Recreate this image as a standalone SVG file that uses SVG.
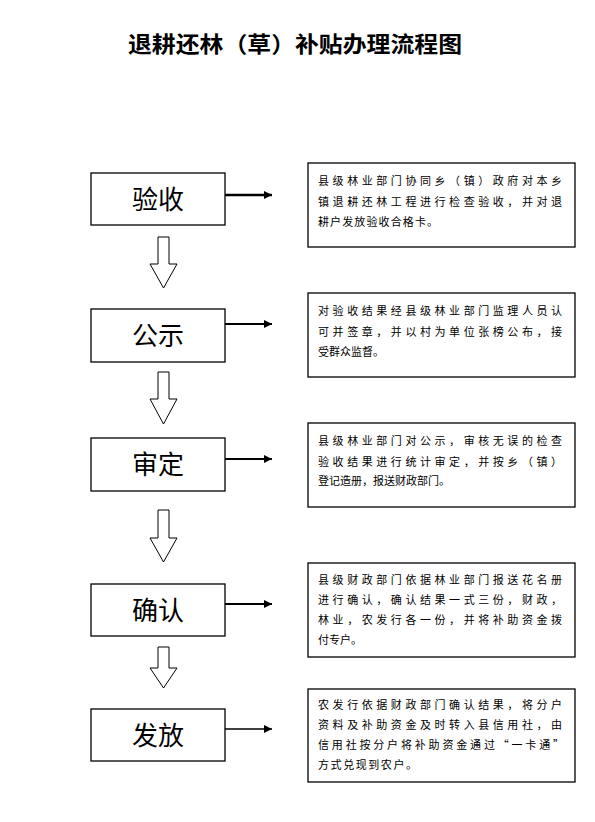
<svg xmlns="http://www.w3.org/2000/svg" width="595" height="822" viewBox="0 0 595 822">
<style>
.bg{fill:#ffffff}
.box{fill:#ffffff;stroke:#000000;stroke-width:1.3}
.lbl{font-family:"Noto Sans CJK SC","Liberation Sans",sans-serif;font-size:26px;fill:#000;text-anchor:middle}
.desc{font-family:"Noto Sans CJK SC","Liberation Sans",sans-serif;font-size:11px;fill:#000}
.title{font-family:"Noto Sans CJK SC","Liberation Sans",sans-serif;font-size:22px;font-weight:bold;fill:#000}
.down{fill:#ffffff;stroke:#000000;stroke-width:1}
.rline{stroke:#000;fill:none}
</style>
<defs>
<marker id="ah" viewBox="0 0 10 10" refX="10" refY="5" markerWidth="10" markerHeight="8" markerUnits="userSpaceOnUse" orient="auto">
<path d="M0,0 L10,5 L0,10 Z" fill="#000"/>
</marker>
</defs>
<rect class="bg" x="0" y="0" width="595" height="822"/>
<text class="title" x="128" y="52" textLength="334" lengthAdjust="spacingAndGlyphs">退耕还林（草）补贴办理流程图</text>

<g id="connectors">
<line class="rline" x1="225" y1="195" x2="272" y2="195" stroke-width="2.5" marker-end="url(#ah)"/>
<line class="rline" x1="225" y1="324" x2="272" y2="324" stroke-width="2" marker-end="url(#ah)"/>
<line class="rline" x1="225" y1="459" x2="272" y2="459" stroke-width="2" marker-end="url(#ah)"/>
<line class="rline" x1="225" y1="604" x2="272" y2="604" stroke-width="2" marker-end="url(#ah)"/>
<line class="rline" x1="225" y1="729" x2="272" y2="729" stroke-width="1.5" marker-end="url(#ah)"/>
<path class="down" d="M158,237 H169 V264 H177 L163.5,288 L150,264 H158 Z"/>
<path class="down" d="M158,372 H169 V399 H177 L163.5,424 L150,399 H158 Z"/>
<path class="down" d="M158,510 H169 V538 H177 L163.5,562 L150,538 H158 Z"/>
<path class="down" d="M158,647 H169 V668 H177 L163.5,688 L150,668 H158 Z"/>
</g>

<g id="step1">
<rect class="box" x="91" y="173" width="134" height="52"/>
<text class="lbl" x="158" y="209">验收</text>
</g>
<g id="step2">
<rect class="box" x="91" y="309" width="134" height="53"/>
<text class="lbl" x="158" y="345">公示</text>
</g>
<g id="step3">
<rect class="box" x="91" y="438" width="134" height="53"/>
<text class="lbl" x="158" y="474">审定</text>
</g>
<g id="step4">
<rect class="box" x="91" y="584" width="134" height="52"/>
<text class="lbl" x="158" y="620">确认</text>
</g>
<g id="step5">
<rect class="box" x="91" y="709" width="134" height="52"/>
<text class="lbl" x="158" y="745">发放</text>
</g>

<g id="note1">
<rect class="box" x="308" y="163" width="267" height="84"/>
<text class="desc" x="318" y="185" textLength="244" lengthAdjust="spacing">县级林业部门协同乡（镇）政府对本乡</text>
<text class="desc" x="318" y="206" textLength="244" lengthAdjust="spacing">镇退耕还林工程进行检查验收，并对退</text>
<text class="desc" x="318" y="226" textLength="120" lengthAdjust="spacing">耕户发放验收合格卡。</text>
</g>
<g id="note2">
<rect class="box" x="308" y="293" width="267" height="84"/>
<text class="desc" x="318" y="315" textLength="244" lengthAdjust="spacing">对验收结果经县级林业部门监理人员认</text>
<text class="desc" x="318" y="336" textLength="244" lengthAdjust="spacing">可并签章，并以村为单位张榜公布，接</text>
<text class="desc" x="318" y="356">受群众监督。</text>
</g>
<g id="note3">
<rect class="box" x="308" y="423" width="267" height="84"/>
<text class="desc" x="318" y="445" textLength="244" lengthAdjust="spacing">县级林业部门对公示，审核无误的检查</text>
<text class="desc" x="318" y="466" textLength="244" lengthAdjust="spacing">验收结果进行统计审定，并按乡（镇）</text>
<text class="desc" x="318" y="485">登记造册，报送财政部门。</text>
</g>
<g id="note4">
<rect class="box" x="308" y="563" width="267" height="94"/>
<text class="desc" x="318" y="584" textLength="244" lengthAdjust="spacing">县级财政部门依据林业部门报送花名册</text>
<text class="desc" x="318" y="604" textLength="244" lengthAdjust="spacing">进行确认，确认结果一式三份，财政，</text>
<text class="desc" x="318" y="624" textLength="244" lengthAdjust="spacing">林业，农发行各一份，并将补助资金拨</text>
<text class="desc" x="318" y="644">付专户。</text>
</g>
<g id="note5">
<rect class="box" x="308" y="689" width="267" height="93"/>
<text class="desc" x="318" y="709" textLength="244" lengthAdjust="spacing">农发行依据财政部门确认结果，将分户</text>
<text class="desc" x="318" y="729" textLength="244" lengthAdjust="spacing">资料及补助资金及时转入县信用社，由</text>
<text class="desc" x="318" y="749" textLength="246" lengthAdjust="spacing">信用社按分户将补助资金通过“一卡通”</text>
<text class="desc" x="318" y="769" textLength="99" lengthAdjust="spacing">方式兑现到农户。</text>
</g>
</svg>
